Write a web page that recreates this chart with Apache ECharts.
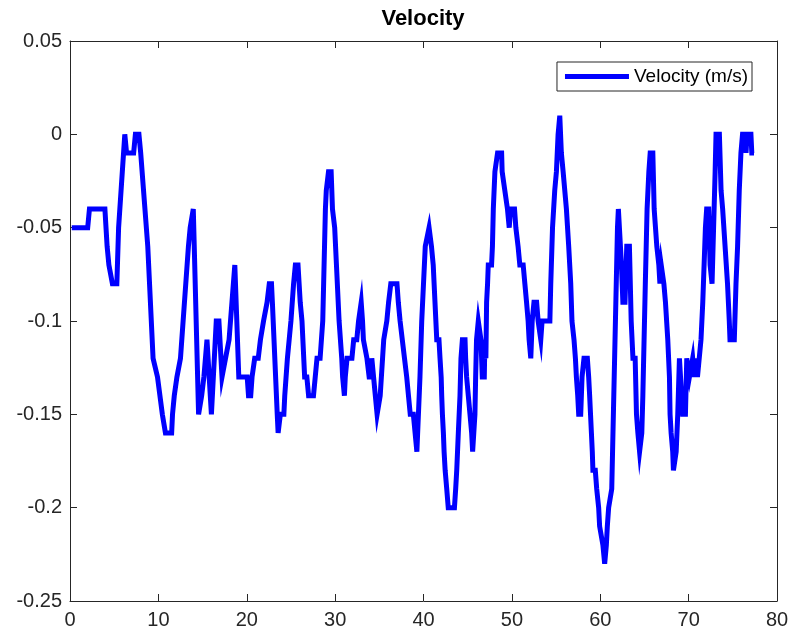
<!DOCTYPE html>
<html>
<head>
<meta charset="utf-8">
<title>Velocity</title>
<script src="https://cdn.jsdelivr.net/npm/echarts@6/dist/echarts.min.js"></script>
<style>
  html, body { margin: 0; padding: 0; background: #ffffff; }
  #chart { width: 793px; height: 638px; }
</style>
</head>
<body>
<div id="chart"></div>
<script>
// Sample times (s)
const time = [
  0.2, 2.0, 2.2, 3.95, 4.2, 4.4, 4.8, 5.3, 5.5, 6.2, 6.4, 7.2, 7.4, 7.8, 8.0, 8.8, 9.4, 9.9,
  10.45, 10.8, 11.5, 11.6, 11.8, 12.1, 12.5, 13.4, 13.6, 13.95, 14.55, 14.9, 15.15, 15.5, 16.0,
  16.55, 16.85, 17.2, 17.6, 18.0, 18.65, 19.1, 20.05, 20.2, 20.45, 20.6,
  20.9, 21.3, 21.55, 21.9, 22.3, 22.55, 22.8, 22.9, 23.45, 23.55, 23.8, 24.2, 24.3, 24.45, 24.6,
  24.8, 25.0, 25.3, 25.5, 25.8, 26.05, 26.25, 26.55, 26.8, 27.0, 27.55, 27.75, 27.95, 28.3, 28.45,
  28.6, 28.9, 29.0, 29.25, 29.55, 29.7, 29.95, 30.15, 30.45, 30.75, 30.85, 31.05, 31.15, 31.35,
  31.9, 32.1, 32.45, 32.65, 32.95, 33.1, 33.2, 33.6, 33.85, 34.1, 34.15, 34.35, 34.55, 34.75,
  34.9, 35.1, 35.5, 35.85, 36.05, 36.3, 37.0, 37.15, 37.35, 37.85, 38.1, 38.3, 38.5, 38.85,
  39.05, 39.25, 39.6, 39.8,
  40.2, 40.4, 40.63, 40.9, 41.1, 41.3, 41.5, 41.75, 41.87, 42.0, 42.06, 42.14, 42.25, 42.33,
  42.45, 42.63, 42.8, 43.5, 43.64, 43.76, 43.94, 44.13, 44.24, 44.4, 44.7, 44.77, 44.88, 45.07,
  45.26, 45.45, 45.56, 45.82, 45.9, 46.0, 46.2, 46.4, 46.5, 46.65, 46.88, 46.95, 47.06, 47.14,
  47.25, 47.33, 47.7, 47.8, 47.9, 48.08, 48.38, 48.84, 48.9, 49.2, 49.5, 49.7, 49.85, 50.3,
  50.45, 50.7, 50.9, 51.28, 51.47, 51.66, 51.84, 51.95, 52.14, 52.3, 52.5, 52.8, 52.97, 53.27,
  53.42, 54.3, 54.4, 54.6, 54.85, 55.04, 55.23, 55.42, 55.6, 55.8, 56.17, 56.43, 56.66, 56.8,
  57.03, 57.19, 57.3, 57.45, 57.56, 57.79, 57.94, 58.16, 58.54, 58.69, 58.8, 58.9, 59.0, 59.1,
  59.17, 59.44, 59.6, 59.67, 59.82, 59.93, 60.12, 60.3, 60.5, 60.69, 60.8, 60.95, 61.17,
  61.3, 61.95, 62.05, 62.2, 62.4, 62.56, 62.8, 63.0, 63.3, 63.5, 63.7, 63.95, 64.1, 64.26,
  64.45, 64.64, 64.7, 64.82, 65.1, 65.3, 65.5, 65.65, 65.95, 66.1, 66.4, 66.63, 66.75, 66.9,
  67.08, 67.2, 67.38, 67.64, 67.83, 67.9, 68.02, 68.2, 68.28, 68.5, 68.59, 68.77, 68.96, 69.15,
  69.33, 69.64, 69.79, 70.0, 70.09, 70.28, 70.46, 70.65, 70.85, 71.0, 71.2, 71.4, 71.6, 71.9,
  72.04, 72.27, 72.43, 72.65, 72.83, 73.0, 73.1, 73.48, 73.67, 73.85, 74.4, 74.6, 74.68, 75.17,
  75.36, 75.54, 75.73, 75.92, 76.1, 76.4, 76.5, 76.6, 77.05, 77.15, 77.4
];

// Velocity (m/s)
const velocity = [
  -0.05, -0.05, -0.04, -0.04, -0.06, -0.07, -0.08, -0.08, -0.05, 0, -0.01, -0.01, 0, 0, -0.01, -0.06, -0.12, -0.13,
  -0.15, -0.16, -0.16, -0.15, -0.14, -0.13, -0.12, -0.06, -0.05, -0.04, -0.15, -0.14, -0.13, -0.11, -0.15,
  -0.10, -0.10, -0.13, -0.12, -0.11, -0.07, -0.13, -0.13, -0.14, -0.14, -0.13,
  -0.12, -0.12, -0.11, -0.10, -0.09, -0.08, -0.08, -0.09, -0.15, -0.16, -0.15, -0.15, -0.14, -0.13, -0.12,
  -0.11, -0.10, -0.08, -0.07, -0.07, -0.09, -0.10, -0.13, -0.13, -0.14, -0.14, -0.13, -0.12, -0.12, -0.11,
  -0.10, -0.04, -0.03, -0.02, -0.02, -0.04, -0.05, -0.07, -0.10, -0.12, -0.13, -0.14, -0.13, -0.12,
  -0.12, -0.11, -0.11, -0.10, -0.09, -0.10, -0.11, -0.12, -0.13, -0.13, -0.12, -0.13, -0.14, -0.15,
  -0.15, -0.14, -0.11, -0.10, -0.09, -0.08, -0.08, -0.09, -0.10, -0.12, -0.13, -0.14, -0.15, -0.15,
  -0.16, -0.17, -0.13, -0.10,
  -0.06, -0.06, -0.05, -0.06, -0.07, -0.09, -0.11, -0.11, -0.12, -0.13, -0.14, -0.15, -0.16, -0.17,
  -0.18, -0.19, -0.20, -0.20, -0.19, -0.18, -0.16, -0.14, -0.12, -0.11, -0.11, -0.12, -0.13, -0.14,
  -0.15, -0.16, -0.17, -0.15, -0.13, -0.11, -0.10, -0.10, -0.11, -0.13, -0.13, -0.11, -0.12, -0.09,
  -0.08, -0.07, -0.07, -0.06, -0.04, -0.02, -0.01, -0.01, -0.02, -0.03, -0.04, -0.05, -0.04, -0.04,
  -0.05, -0.06, -0.07, -0.07, -0.08, -0.09, -0.10, -0.11, -0.12, -0.10, -0.09, -0.09, -0.10, -0.11,
  -0.10, -0.10, -0.08, -0.05, -0.03, -0.02, 0, 0.01, -0.01, -0.02, -0.04, -0.06, -0.08, -0.10,
  -0.11, -0.12, -0.13, -0.14, -0.15, -0.15, -0.13, -0.12, -0.12, -0.13, -0.14, -0.15, -0.16, -0.17,
  -0.18, -0.18, -0.19, -0.19, -0.20, -0.21, -0.21, -0.22, -0.23, -0.22, -0.21, -0.20, -0.20,
  -0.19, -0.05, -0.04, -0.04, -0.07, -0.09, -0.09, -0.06, -0.06, -0.10, -0.12, -0.12, -0.15, -0.16,
  -0.17, -0.17, -0.16, -0.14, -0.08, -0.04, -0.02, -0.01, -0.01, -0.04, -0.06, -0.07, -0.08, -0.07,
  -0.07, -0.08, -0.09, -0.11, -0.13, -0.15, -0.16, -0.17, -0.18, -0.18, -0.17, -0.15, -0.12, -0.12,
  -0.15, -0.15, -0.12, -0.12, -0.13, -0.13, -0.12, -0.13, -0.12, -0.13, -0.13, -0.11, -0.09, -0.05,
  -0.04, -0.04, -0.07, -0.08, -0.08, -0.02, 0, 0, -0.03, -0.04, -0.08, -0.10, -0.11, -0.11,
  -0.08, -0.06, -0.03, -0.01, 0, 0, -0.01, 0, 0, -0.01, -0.01
];

// Axis ticks
const xTicks = [0, 10, 20, 30, 40, 50, 60, 70, 80];
const yTicks = [-0.25, -0.2, -0.15, -0.1, -0.05, 0, 0.05];

const seriesName = 'Velocity (m/s)';
const titleText = 'Velocity';

const FONT = 'Liberation Sans, Arial, Helvetica, sans-serif';
const AXIS_COLOR = '#262626';
const LINE_COLOR = '#0000ff';

const points = time.map((t, i) => [t, velocity[i]]);

const xMin = xTicks[0], xMax = xTicks[xTicks.length - 1], xStep = xTicks[1] - xTicks[0];
const yMin = yTicks[0], yMax = yTicks[yTicks.length - 1];
const yStep = 0.05;

// Shared look for the four sides of the box: dark frame, inward ticks, no grid lines
function axisBase(extra) {
  return Object.assign({
    type: 'value',
    axisLine: { show: true, onZero: false, lineStyle: { color: AXIS_COLOR, width: 1 } },
    axisTick: { show: true, inside: true, length: 7, lineStyle: { color: AXIS_COLOR, width: 1 } },
    splitLine: { show: false },
    axisLabel: { show: false }
  }, extra);
}

const chart = echarts.init(document.getElementById('chart'), null, { renderer: 'canvas' });

chart.setOption({
  animation: false,
  backgroundColor: '#ffffff',
  title: {
    text: titleText,
    left: 423,
    textAlign: 'center',
    top: 8,
    padding: 0,
    textStyle: { fontFamily: FONT, fontSize: 22, fontWeight: 'bold', color: '#000000' }
  },
  grid: { left: 70, right: 16, top: 41, bottom: 37, containLabel: false },
  legend: {
    data: [{ name: seriesName, icon: 'rect' }],
    right: 41,
    top: 62,
    backgroundColor: '#ffffff',
    borderColor: AXIS_COLOR,
    borderWidth: 1,
    borderRadius: 0,
    padding: [5, 4, 5, 8],
    itemWidth: 64,
    itemHeight: 5,
    textStyle: { fontFamily: FONT, fontSize: 19, color: '#000000' },
    selectedMode: false
  },
  xAxis: [
    axisBase({
      min: xMin, max: xMax, interval: xStep, position: 'bottom',
      axisLabel: {
        show: true, color: AXIS_COLOR, fontFamily: FONT, fontSize: 20, margin: 9,
        formatter: v => String(v)
      }
    }),
    axisBase({ min: xMin, max: xMax, interval: xStep, position: 'top' })
  ],
  yAxis: [
    axisBase({
      min: yMin, max: yMax, interval: yStep, position: 'left',
      axisLabel: {
        show: true, color: AXIS_COLOR, fontFamily: FONT, fontSize: 20, margin: 8,
        formatter: v => String(+(+v).toFixed(2))
      }
    }),
    axisBase({ min: yMin, max: yMax, interval: yStep, position: 'right' })
  ],
  series: [{
    name: seriesName,
    type: 'line',
    xAxisIndex: 0,
    yAxisIndex: 0,
    data: points,
    symbol: 'none',
    smooth: false,
    color: LINE_COLOR,
    itemStyle: { color: LINE_COLOR },
    lineStyle: { color: LINE_COLOR, width: 5, join: 'miter', cap: 'butt' },
    emphasis: { disabled: true }
  }]
});
</script>
</body>
</html>
